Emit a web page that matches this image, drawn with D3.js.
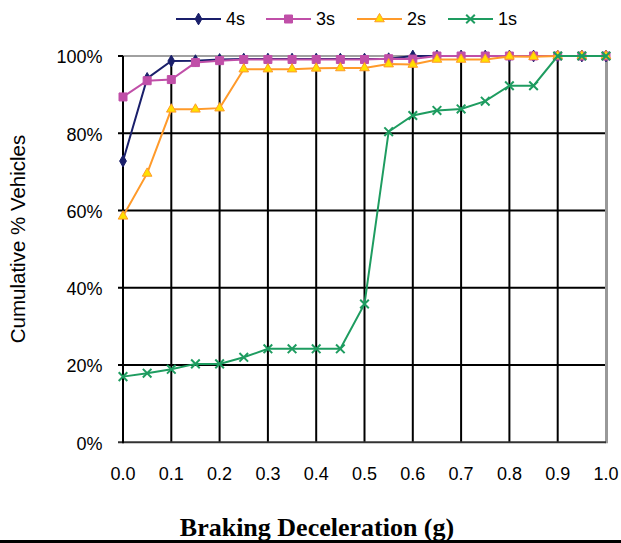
<!DOCTYPE html>
<html><head><meta charset="utf-8">
<script src="https://cdn.jsdelivr.net/npm/d3@7"></script>
<style>body{margin:0;background:#fff}svg{display:block}</style>
</head><body>
<svg id="c" width="621" height="543"></svg>
<script>
const xValues = [0,0.05,0.1,0.15,0.2,0.25,0.3,0.35,0.4,0.45,0.5,0.55,0.6,0.65,0.7,0.75,0.8,0.85,0.9,0.95,1.0];
const s4 = [72.8,94.2,98.7,98.8,99.1,99.2,99.2,99.2,99.2,99.2,99.2,99.3,100,100,100,100,100,100,100,100,100];
const s3 = [89.4,93.6,93.9,98.3,98.8,99.1,99.1,99.1,99.1,99.1,99.1,99.3,99.2,100,100,100,100,100,100,100,100];
const s2 = [58.5,69.6,86.2,86.2,86.5,96.6,96.6,96.6,96.8,96.9,96.9,97.9,97.8,99.1,99.1,99.1,99.9,99.8,100,100,100];
const s1 = [17.0,17.9,18.9,20.3,20.3,22.0,24.2,24.2,24.2,24.2,35.8,80.4,84.6,85.9,86.3,88.3,92.3,92.3,100,100,100];
const seriesNames = ["4s","3s","2s","1s"];
const xTicks = [0,0.1,0.2,0.3,0.4,0.5,0.6,0.7,0.8,0.9,1.0];
const yTicks = [0,20,40,60,80,100];

const svg = d3.select("#c");
const L=123, R=606, T=56, B=442.3;
const x = d3.scaleLinear().domain([0,1]).range([L,R]);
const y = d3.scaleLinear().domain([0,100]).range([B,T]);

// grid
const g = svg.append("g");
g.selectAll(".vg").data(xTicks.slice(1,-1)).join("line")
  .attr("x1",d=>x(d)).attr("x2",d=>x(d)).attr("y1",T).attr("y2",B)
  .attr("stroke","#000").attr("stroke-width",2);
g.selectAll(".hg").data(yTicks.slice(1,-1)).join("line")
  .attr("x1",L-5).attr("x2",R).attr("y1",d=>y(d)).attr("y2",d=>y(d))
  .attr("stroke","#000").attr("stroke-width",2);
// border top/right gray
g.append("line").attr("x1",L).attr("x2",R+1).attr("y1",T).attr("y2",T).attr("stroke","#a0a0a0").attr("stroke-width",2);
g.append("line").attr("x1",R+0.5).attr("x2",R+0.5).attr("y1",T).attr("y2",B+1).attr("stroke","#999").attr("stroke-width",3);
// bottom axis
g.append("line").attr("x1",L-5).attr("x2",R).attr("y1",B).attr("y2",B).attr("stroke","#333").attr("stroke-width",2);
g.append("line").attr("x1",L-5).attr("x2",L).attr("y1",T).attr("y2",T).attr("stroke","#000").attr("stroke-width",2);
// left axis
g.append("line").attr("x1",L).attr("x2",L).attr("y1",T).attr("y2",B+1).attr("stroke","#000").attr("stroke-width",2);

// tick labels
const font = "Liberation Sans, Arial, sans-serif";
svg.append("g").selectAll("text").data(yTicks).join("text")
  .attr("x",102.5).attr("y",d=>y(d)+1).attr("dy","0.35em").attr("text-anchor","end")
  .attr("font-family",font).attr("font-size",18).text(d=>d+"%");
svg.append("g").selectAll("text").data(xTicks).join("text")
  .attr("x",d=>x(d)).attr("y",473.5).attr("dy","0.35em").attr("text-anchor","middle")
  .attr("font-family",font).attr("font-size",18).text(d=>d.toFixed(1));

// titles
svg.append("text").attr("transform","translate(25,239) rotate(-90)").attr("text-anchor","middle")
  .attr("font-family",font).attr("font-size",20.5).text("Cumulative % Vehicles");
svg.append("text").attr("x",317).attr("y",536).attr("text-anchor","middle")
  .attr("font-family","Liberation Serif, Times New Roman, serif").attr("font-weight","bold").attr("font-size",26)
  .text("Braking Deceleration (g)");
svg.append("line").attr("x1",0).attr("x2",621).attr("y1",541.5).attr("y2",541.5).attr("stroke","#000").attr("stroke-width",3);

const styles = {
  "4s":{line:"#1a1f6b", sym:d3.symbolDiamond, size:40, fill:"#1a1f6b", stroke:"#1a1f6b"},
  "3s":{line:"#c04fa8", sym:d3.symbolSquare, size:64, fill:"#c04fa8", stroke:"#c04fa8"},
  "2s":{line:"#ff9a2a", sym:d3.symbolTriangle, size:40, fill:"#ffe000", stroke:"#ff9a2a"},
  "1s":{line:"#1e9c60", sym:d3.symbolX, size:50, fill:"none", stroke:"#1e9c60"}
};
const data = {"4s":s4,"3s":s3,"2s":s2,"1s":s1};
const line = d3.line().x((d,i)=>x(xValues[i])).y(d=>y(d));

seriesNames.forEach(name=>{
  const st = styles[name], vals = data[name];
  const sg = svg.append("g");
  sg.append("path").attr("d",line(vals)).attr("fill","none").attr("stroke",st.line).attr("stroke-width",2);
  sg.selectAll("path.m").data(vals).join("path").attr("class","m")
    .attr("transform",(d,i)=>`translate(${x(xValues[i])},${y(d)})`)
    .attr("d",d3.symbol(st.sym,st.size)).attr("fill",st.fill).attr("stroke",st.stroke)
    .attr("stroke-width",name==="1s"?2:1);
});

// legend
const legX = [176,266,357,448];
seriesNames.forEach((name,i)=>{
  const st = styles[name];
  const lg = svg.append("g").attr("transform",`translate(${legX[i]},19)`);
  lg.append("line").attr("x1",0).attr("x2",45).attr("stroke",st.line).attr("stroke-width",2);
  lg.append("path").attr("transform","translate(22.5,0)").attr("d",d3.symbol(st.sym,st.size)).attr("fill",st.fill).attr("stroke",st.stroke).attr("stroke-width",name==="1s"?2:1);
  lg.append("text").attr("x",50).attr("dy","0.35em").attr("font-family",font).attr("font-size",18).text(name);
});
</script>
</body></html>
